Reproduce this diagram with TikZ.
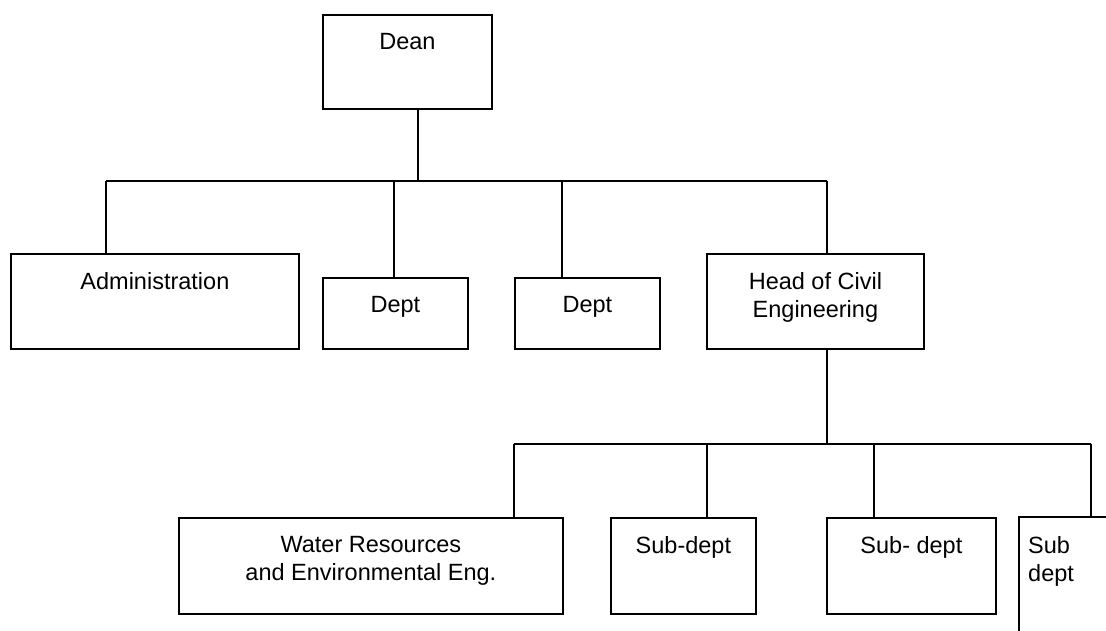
\documentclass[tikz,border=0pt]{standalone}
\usepackage{fontspec}
\setmainfont{Liberation Sans}
\begin{document}
\begin{tikzpicture}[x=1pt,y=-1pt,
  box/.style={draw=black, line width=1.8pt, rectangle, inner sep=0pt,
    anchor=north west, minimum width=#1},
  txt/.style={anchor=north, inner sep=0pt, yshift=-19pt, align=center,
    font=\fontsize{23.5}{28.5}\selectfont},
  txtl/.style={anchor=north west, inner sep=0pt, xshift=10pt, yshift=-20pt,
    align=left, font=\fontsize{23.5}{28.5}\selectfont},
  link/.style={draw=black, line width=1.8pt}]
\clip (0,0) rectangle (1106,631);
\fill[white] (0,0) rectangle (1106,631);

% top level
\node[box=169pt, minimum height=94pt, label={[txt]north:Dean}] (dean) at (322,14) {};

% second level
\node[box=288pt, minimum height=95pt, label={[txt]north:Administration}] (admin) at (10,253) {};
\node[box=145pt, minimum height=71pt, label={[txt]north:Dept}] (dept1) at (322,277) {};
\node[box=145pt, minimum height=71pt, label={[txt]north:Dept}] (dept2) at (514,277) {};
\node[box=217pt, minimum height=95pt, label={[txt]north:Head of Civil\\Engineering}] (head) at (706,253) {};

% third level
\node[box=384pt, minimum height=96pt, label={[txt]north:Water Resources\\and Environmental Eng.}] (water) at (178,517) {};
\node[box=145pt, minimum height=96pt, label={[txt]north:Sub-dept}] (sub1) at (610,517) {};
\node[box=169pt, minimum height=96pt, label={[txt]north:Sub- dept}] (sub2) at (826,517) {};
\node[box=145pt, minimum height=130pt, label={[txtl]north west:Sub\\dept}] (sub3) at (1018,516) {};

% upper bus
\coordinate (jd) at (418,181);
\coordinate (ja) at (106,181);
\coordinate (j1) at (394,181);
\coordinate (j2) at (562,181);
\coordinate (jh) at (827,181);
\draw[link] (dean.south -| jd) -- (jd);
\draw[link] (ja) -- (jh);
\draw[link] (ja) -- (ja |- admin.north);
\draw[link] (j1) -- (j1 |- dept1.north);
\draw[link] (j2) -- (j2 |- dept2.north);
\draw[link] (jh) -- (jh |- head.north);

% lower bus
\coordinate (kh) at (827,444);
\coordinate (kw) at (514,444);
\coordinate (k1) at (707,444);
\coordinate (k2) at (874,444);
\coordinate (k3) at (1091,444);
\draw[link] (head.south -| kh) -- (kh);
\draw[link] (kw) -- (k3);
\draw[link] (kw) -- (kw |- water.north);
\draw[link] (k1) -- (k1 |- sub1.north);
\draw[link] (k2) -- (k2 |- sub2.north);
\draw[link] (k3) -- (k3 |- sub3.north);
\end{tikzpicture}
\end{document}
